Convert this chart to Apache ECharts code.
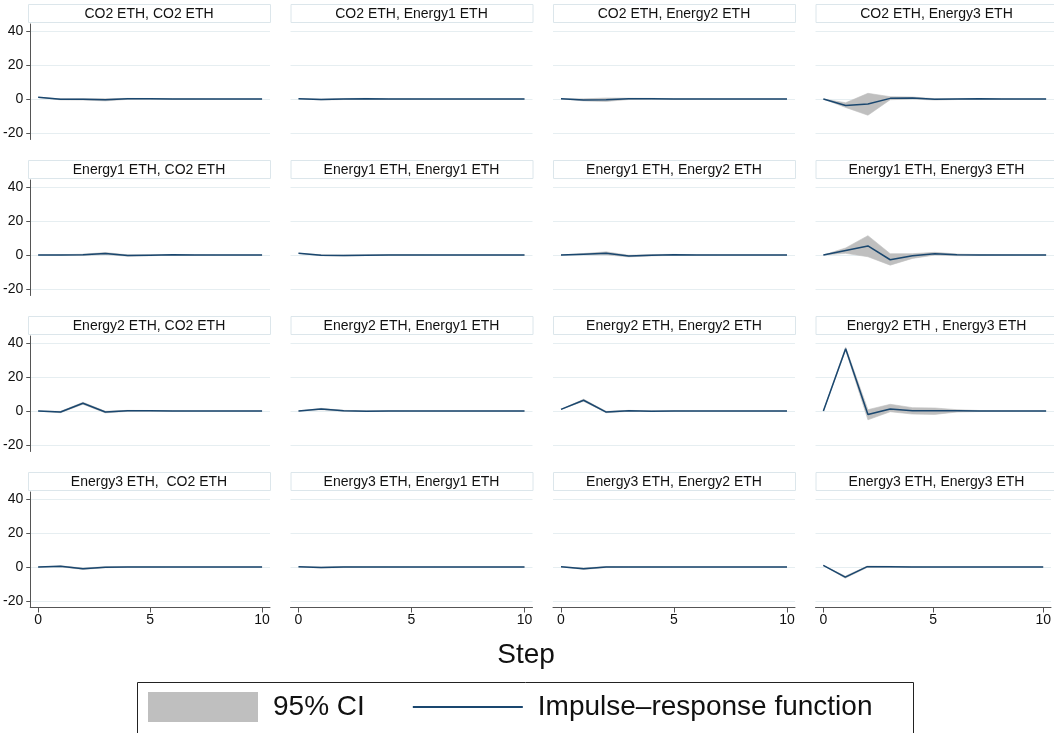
<!DOCTYPE html>
<html>
<head>
<meta charset="utf-8">
<script src="https://cdn.jsdelivr.net/npm/echarts@6/dist/echarts.min.js"></script>
<style>
  html, body { margin: 0; padding: 0; background: #ffffff; }
  #chart { width: 1054px; height: 733px; }
</style>
</head>
<body>
<div id="chart"></div>
<script>
// Forecast horizon and axis ticks
const steps = [0, 1, 2, 3, 4, 5, 6, 7, 8, 9, 10];
const xTicks = [0, 5, 10];
const yTicks = [-20, 0, 20, 40];

// Panel titles (impulse, response), row by row
const panelTitles = [
  'CO2 ETH, CO2 ETH', 'CO2 ETH, Energy1 ETH', 'CO2 ETH, Energy2 ETH', 'CO2 ETH, Energy3 ETH',
  'Energy1 ETH, CO2 ETH', 'Energy1 ETH, Energy1 ETH', 'Energy1 ETH, Energy2 ETH', 'Energy1 ETH, Energy3 ETH',
  'Energy2 ETH, CO2 ETH', 'Energy2 ETH, Energy1 ETH', 'Energy2 ETH, Energy2 ETH', 'Energy2 ETH , Energy3 ETH',
  'Energy3 ETH,  CO2 ETH', 'Energy3 ETH, Energy1 ETH', 'Energy3 ETH, Energy2 ETH', 'Energy3 ETH, Energy3 ETH'
];

// Impulse: CO2 ETH
const irfCo2Co2 = [1.0, -0.2, -0.2, -0.4, 0.1, 0.1, 0.0, 0.0, 0.0, 0.0, 0.0];
const loCo2Co2  = [1.0, -0.5, -0.6, -1.1, -0.2, -0.1, -0.1, -0.1, 0.0, 0.0, 0.0];
const hiCo2Co2  = [1.0, 0.1, 0.2, 0.2, 0.4, 0.3, 0.1, 0.1, 0.0, 0.0, 0.0];
const irfCo2E1  = [0.2, -0.3, 0.0, 0.1, 0.0, 0.0, 0.0, 0.0, 0.0, 0.0, 0.0];
const loCo2E1   = [0.2, -0.6, -0.3, -0.2, -0.1, -0.1, 0.0, 0.0, 0.0, 0.0, 0.0];
const hiCo2E1   = [0.2, 0.0, 0.3, 0.4, 0.1, 0.1, 0.0, 0.0, 0.0, 0.0, 0.0];
const irfCo2E2  = [0.1, -0.5, -0.4, 0.1, 0.1, 0.0, 0.0, 0.0, 0.0, 0.0, 0.0];
const loCo2E2   = [0.1, -1.1, -1.4, -0.3, -0.2, -0.1, 0.0, 0.0, 0.0, 0.0, 0.0];
const hiCo2E2   = [0.1, 0.1, 0.6, 0.5, 0.4, 0.1, 0.1, 0.0, 0.0, 0.0, 0.0];
const irfCo2E3  = [0.0, -3.8, -3.0, 0.4, 0.6, -0.2, 0.0, 0.1, 0.0, 0.0, 0.0];
const loCo2E3   = [0.0, -5.0, -9.6, -0.4, 0.0, -0.6, -0.3, -0.1, -0.1, 0.0, 0.0];
const hiCo2E3   = [0.0, -2.2, 3.4, 1.4, 1.2, 0.2, 0.3, 0.3, 0.1, 0.0, 0.0];

// Impulse: Energy1 ETH
const irfE1Co2 = [0.0, 0.0, 0.1, 0.9, -0.3, -0.1, 0.1, 0.0, 0.0, 0.0, 0.0];
const loE1Co2  = [0.0, -0.2, -0.3, 0.3, -0.7, -0.4, -0.1, -0.1, 0.0, 0.0, 0.0];
const hiE1Co2  = [0.0, 0.2, 0.5, 1.5, 0.1, 0.2, 0.3, 0.1, 0.0, 0.0, 0.0];
const irfE1E1  = [1.0, -0.1, -0.3, -0.1, 0.0, 0.0, 0.0, 0.0, 0.0, 0.0, 0.0];
const loE1E1   = [1.0, -0.4, -0.6, -0.3, -0.2, -0.1, 0.0, 0.0, 0.0, 0.0, 0.0];
const hiE1E1   = [1.0, 0.2, 0.0, 0.1, 0.2, 0.1, 0.0, 0.0, 0.0, 0.0, 0.0];
const irfE1E2  = [0.0, 0.5, 1.0, -0.6, -0.1, 0.1, 0.0, 0.0, 0.0, 0.0, 0.0];
const loE1E2   = [0.0, 0.1, 0.1, -1.1, -0.5, -0.2, -0.1, 0.0, 0.0, 0.0, 0.0];
const hiE1E2   = [0.0, 0.9, 1.9, -0.1, 0.3, 0.4, 0.1, 0.0, 0.0, 0.0, 0.0];
const irfE1E3  = [0.0, 2.7, 5.4, -2.8, -0.4, 0.8, 0.2, 0.0, 0.0, 0.0, 0.0];
const loE1E3   = [0.0, 1.0, -1.0, -6.0, -2.0, 0.0, -0.4, -0.3, -0.1, 0.0, 0.0];
const hiE1E3   = [0.0, 4.2, 11.5, 0.8, 0.8, 1.6, 0.6, 0.3, 0.1, 0.0, 0.0];

// Impulse: Energy2 ETH
const irfE2Co2 = [0.0, -0.6, 4.6, -0.6, 0.1, 0.1, 0.0, 0.0, 0.0, 0.0, 0.0];
const loE2Co2  = [0.0, -1.0, 4.0, -1.1, -0.2, -0.1, -0.1, 0.0, 0.0, 0.0, 0.0];
const hiE2Co2  = [0.0, -0.2, 5.2, -0.1, 0.4, 0.3, 0.1, 0.0, 0.0, 0.0, 0.0];
const irfE2E1  = [0.0, 1.2, 0.1, -0.1, 0.0, 0.0, 0.0, 0.0, 0.0, 0.0, 0.0];
const loE2E1   = [0.0, 0.8, -0.2, -0.3, -0.1, 0.0, 0.0, 0.0, 0.0, 0.0, 0.0];
const hiE2E1   = [0.0, 1.6, 0.4, 0.1, 0.1, 0.0, 0.0, 0.0, 0.0, 0.0, 0.0];
const irfE2E2  = [1.0, 6.4, -0.6, 0.1, -0.1, 0.0, 0.0, 0.0, 0.0, 0.0, 0.0];
const loE2E2   = [1.0, 5.8, -1.0, -0.2, -0.3, -0.1, 0.0, 0.0, 0.0, 0.0, 0.0];
const hiE2E2   = [1.0, 7.0, -0.2, 0.4, 0.1, 0.1, 0.0, 0.0, 0.0, 0.0, 0.0];
const irfE2E3  = [0.0, 37.0, -2.0, 1.2, 0.2, 0.2, 0.2, 0.0, 0.0, 0.0, 0.0];
const loE2E3   = [0.0, 36.2, -5.2, -0.4, -1.8, -2.0, -0.6, -0.3, -0.1, 0.0, 0.0];
const hiE2E3   = [0.0, 37.8, 0.8, 4.0, 2.0, 1.8, 0.8, 0.3, 0.1, 0.0, 0.0];

// Impulse: Energy3 ETH
const irfE3Co2 = [0.0, 0.4, -1.0, -0.1, 0.0, 0.0, 0.0, 0.0, 0.0, 0.0, 0.0];
const loE3Co2  = [0.0, 0.1, -1.4, -0.4, -0.2, -0.1, 0.0, 0.0, 0.0, 0.0, 0.0];
const hiE3Co2  = [0.0, 0.7, -0.6, 0.2, 0.2, 0.1, 0.0, 0.0, 0.0, 0.0, 0.0];
const irfE3E1  = [0.1, -0.3, 0.0, 0.0, 0.0, 0.0, 0.0, 0.0, 0.0, 0.0, 0.0];
const loE3E1   = [0.1, -0.6, -0.3, -0.2, -0.1, 0.0, 0.0, 0.0, 0.0, 0.0, 0.0];
const hiE3E1   = [0.1, 0.0, 0.3, 0.2, 0.1, 0.0, 0.0, 0.0, 0.0, 0.0, 0.0];
const irfE3E2  = [0.2, -1.0, 0.0, 0.0, 0.0, 0.0, 0.0, 0.0, 0.0, 0.0, 0.0];
const loE3E2   = [0.2, -1.4, -0.3, -0.2, -0.1, 0.0, 0.0, 0.0, 0.0, 0.0, 0.0];
const hiE3E2   = [0.2, -0.6, 0.3, 0.2, 0.1, 0.0, 0.0, 0.0, 0.0, 0.0, 0.0];
const irfE3E3  = [1.0, -6.0, 0.2, 0.1, 0.0, 0.0, 0.0, 0.0, 0.0, 0.0, 0.0];
const loE3E3   = [1.0, -6.6, -0.2, -0.2, -0.1, 0.0, 0.0, 0.0, 0.0, 0.0, 0.0];
const hiE3E3   = [1.0, -5.4, 0.6, 0.4, 0.1, 0.0, 0.0, 0.0, 0.0, 0.0, 0.0];

// [irf, lower bound, upper bound] per panel, row by row
const panelSeries = [
  [irfCo2Co2, loCo2Co2, hiCo2Co2], [irfCo2E1, loCo2E1, hiCo2E1], [irfCo2E2, loCo2E2, hiCo2E2], [irfCo2E3, loCo2E3, hiCo2E3],
  [irfE1Co2, loE1Co2, hiE1Co2], [irfE1E1, loE1E1, hiE1E1], [irfE1E2, loE1E2, hiE1E2], [irfE1E3, loE1E3, hiE1E3],
  [irfE2Co2, loE2Co2, hiE2Co2], [irfE2E1, loE2E1, hiE2E1], [irfE2E2, loE2E2, hiE2E2], [irfE2E3, loE2E3, hiE2E3],
  [irfE3Co2, loE3Co2, hiE3Co2], [irfE3E1, loE3E1, hiE3E1], [irfE3E2, loE3E2, hiE3E2], [irfE3E3, loE3E3, hiE3E3]
];

// Layout of the 4x4 panel grid
const FONT = '"Liberation Sans", Arial, Helvetica, sans-serif';
const colLefts = [28, 290.5, 553, 815.5];
const rowTops = [24, 180, 336, 492];
const panelW = 242;
const panelH = 115.5;
const CI_COLOR = '#bfbfbf';
const LINE_COLOR = '#1a476f';
const GRID_COLOR = '#e6eef1';
const AXIS_COLOR = '#555555';

const grids = [], xAxes = [], yAxes = [], series = [], graphics = [];

panelSeries.forEach(function (triple, i) {
  const row = Math.floor(i / 4), col = i % 4;
  const irf = triple[0], lo = triple[1], hi = triple[2];
  const left = colLefts[col], top = rowTops[row];
  const bottomRow = row === 3, leftCol = col === 0;

  grids.push({ left: left, top: top, width: panelW, height: panelH });

  xAxes.push({
    type: 'value', gridIndex: i, min: -0.354, max: 10.354,
    axisLine: { show: bottomRow, onZero: false, lineStyle: { color: AXIS_COLOR, width: 1 } },
    axisTick: { show: bottomRow, customValues: xTicks, length: 5, lineStyle: { color: AXIS_COLOR } },
    axisLabel: { show: bottomRow, customValues: xTicks, margin: 6, fontSize: 14, color: '#111', fontFamily: FONT },
    splitLine: { show: false }
  });

  yAxes.push({
    type: 'value', gridIndex: i, min: -24, max: 44.5,
    axisLine: { show: leftCol, onZero: false, lineStyle: { color: AXIS_COLOR, width: 1 } },
    axisTick: { show: leftCol, customValues: yTicks, length: 4, lineStyle: { color: AXIS_COLOR } },
    axisLabel: { show: leftCol, customValues: yTicks, margin: 7, fontSize: 14, color: '#111', fontFamily: FONT },
    splitLine: { show: true, lineStyle: { color: GRID_COLOR, width: 1 } }
  });

  // 95% confidence band as one polygon through the axis scales
  series.push({
    name: '95% CI', type: 'custom', xAxisIndex: i, yAxisIndex: i,
    itemStyle: { color: CI_COLOR }, silent: true, z: 2,
    data: steps.map(function (s, k) { return [s, lo[k], hi[k]]; }),
    encode: { x: 0, y: [1, 2] },
    renderItem: function (params, api) {
      if (params.dataIndex !== 0) return null;
      const upper = steps.map(function (s, k) { return api.coord([s, hi[k]]); });
      const lower = steps.map(function (s, k) { return api.coord([s, lo[k]]); }).reverse();
      return {
        type: 'polygon',
        shape: { points: upper.concat(lower) },
        style: { fill: CI_COLOR, stroke: CI_COLOR, lineWidth: 0.6 }
      };
    }
  });

  series.push({
    name: 'Impulse\u2013response function', type: 'line', xAxisIndex: i, yAxisIndex: i,
    color: LINE_COLOR, symbol: 'none', silent: true, z: 3,
    lineStyle: { color: LINE_COLOR, width: 1.5 },
    data: steps.map(function (s, k) { return [s, irf[k]]; })
  });

  // Panel title strip
  graphics.push({
    type: 'rect', silent: true,
    shape: { x: left + 0.5, y: top - 19.5, width: panelW, height: 18 },
    style: { fill: '#ffffff', stroke: '#dce6eb', lineWidth: 1 }
  });
  graphics.push({
    type: 'text', silent: true, x: left + panelW / 2, y: top - 10,
    style: { text: panelTitles[i], fill: '#111', font: '14px ' + FONT, align: 'center', verticalAlign: 'middle' }
  });
});

// Shared x-axis title
graphics.push({
  type: 'text', silent: true, x: 526, y: 655,
  style: { text: 'Step', fill: '#111', font: '28px ' + FONT, align: 'center', verticalAlign: 'middle' }
});

// Legend frame
graphics.push({
  type: 'rect', silent: true,
  shape: { x: 137.5, y: 682.5, width: 776, height: 70 },
  style: { fill: 'none', stroke: '#222', lineWidth: 1 }
});

const option = {
  animation: false,
  backgroundColor: '#ffffff',
  grid: grids,
  xAxis: xAxes,
  yAxis: yAxes,
  legend: {
    left: 148, top: 692, padding: 0, itemGap: 48,
    itemWidth: 110, itemHeight: 30, selectedMode: false,
    textStyle: { fontSize: 28, color: '#111', fontFamily: FONT, padding: [0, 0, 0, 10] },
    data: [
      { name: '95% CI', icon: 'rect', itemStyle: { color: CI_COLOR, borderWidth: 0 } },
      { name: 'Impulse\u2013response function', icon: 'path://M0,0H110V2H0Z',
        itemStyle: { color: LINE_COLOR, borderWidth: 0 } }
    ]
  },
  graphic: graphics,
  series: series
};

const chart = echarts.init(document.getElementById('chart'), null, { renderer: 'canvas' });
chart.setOption(option);
</script>
</body>
</html>
